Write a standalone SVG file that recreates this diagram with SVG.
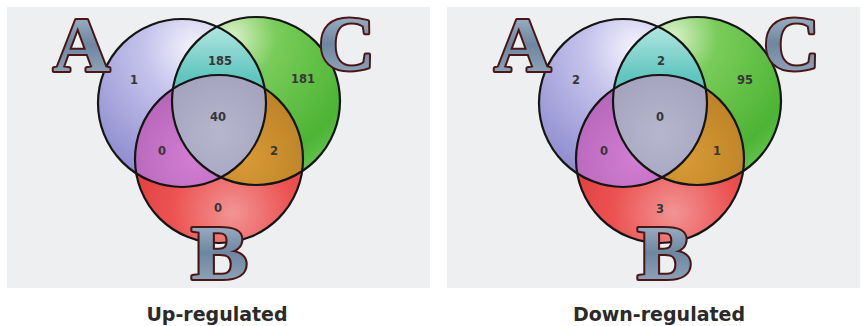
<svg xmlns="http://www.w3.org/2000/svg" width="861" height="326" viewBox="0 0 861 326">
  <style>
    .bg { fill: #eeeff1; }
    .outline { fill: none; stroke: #151515; stroke-width: 2.2; }
    .num { font-family: "DejaVu Sans", "Liberation Sans", sans-serif; font-weight: bold; font-size: 11.5px; fill: #363636; text-anchor: middle; }
    .big { font-family: "Liberation Serif", "DejaVu Serif", serif; font-weight: bold; font-size: 79px; fill: url(#letterGrad); stroke: #4a1616; stroke-width: 4; paint-order: stroke; stroke-linejoin: round; }
    .cap { font-family: "DejaVu Sans", "Liberation Sans", sans-serif; font-weight: bold; font-size: 19px; fill: #2a2a2a; text-anchor: middle; }
  </style>
  <defs>
    <clipPath id="clipA"><circle cx="182" cy="103" r="84"/></clipPath>
    <clipPath id="clipC"><circle cx="256" cy="101" r="84"/></clipPath>
    <radialGradient id="gA" cx="0.58" cy="0.18" r="0.85">
      <stop offset="0" stop-color="#f6f5fd"/>
      <stop offset="0.35" stop-color="#c6c4ec"/>
      <stop offset="1" stop-color="#8a88cc"/>
    </radialGradient>
    <radialGradient id="gC" cx="0.35" cy="0.12" r="0.9">
      <stop offset="0" stop-color="#dcf2cc"/>
      <stop offset="0.3" stop-color="#7acc5a"/>
      <stop offset="0.85" stop-color="#4cb434"/>
      <stop offset="1" stop-color="#62c24c"/>
    </radialGradient>
    <radialGradient id="gB" cx="0.58" cy="0.82" r="0.8">
      <stop offset="0" stop-color="#f29494"/>
      <stop offset="0.45" stop-color="#ec5252"/>
      <stop offset="1" stop-color="#d83434"/>
    </radialGradient>
    <linearGradient id="gAC" x1="0" y1="0" x2="0" y2="1">
      <stop offset="0" stop-color="#c2ece6"/>
      <stop offset="0.35" stop-color="#62c6c0"/>
      <stop offset="1" stop-color="#3aa6a8"/>
    </linearGradient>
    <radialGradient id="gAB" cx="0.35" cy="0.5" r="0.6">
      <stop offset="0" stop-color="#d27ed2"/>
      <stop offset="1" stop-color="#aa5cae"/>
    </radialGradient>
    <radialGradient id="gBC" cx="0.65" cy="0.5" r="0.6">
      <stop offset="0" stop-color="#d89a36"/>
      <stop offset="1" stop-color="#b07820"/>
    </radialGradient>
    <radialGradient id="gABC" cx="0.5" cy="0.35" r="0.6">
      <stop offset="0" stop-color="#b6b6ce"/>
      <stop offset="1" stop-color="#9a98b6"/>
    </radialGradient>
    <linearGradient id="letterGrad" x1="0" y1="0" x2="0" y2="1">
      <stop offset="0" stop-color="#b4c6d6"/>
      <stop offset="0.5" stop-color="#6e86a0"/>
      <stop offset="1" stop-color="#9cb2c6"/>
    </linearGradient>
    <g id="venn">
      <circle cx="182" cy="103" r="84" fill="url(#gA)"/>
      <circle cx="256" cy="101" r="84" fill="url(#gC)"/>
      <circle cx="219" cy="159" r="84" fill="url(#gB)"/>
      <circle cx="256" cy="101" r="84" fill="url(#gAC)" clip-path="url(#clipA)"/>
      <circle cx="219" cy="159" r="84" fill="url(#gAB)" clip-path="url(#clipA)"/>
      <circle cx="219" cy="159" r="84" fill="url(#gBC)" clip-path="url(#clipC)"/>
      <g clip-path="url(#clipA)">
        <circle cx="219" cy="159" r="84" fill="url(#gABC)" clip-path="url(#clipC)"/>
      </g>
      <circle class="outline" cx="182" cy="103" r="84"/>
      <circle class="outline" cx="256" cy="101" r="84"/>
      <circle class="outline" cx="219" cy="159" r="84"/>
    </g>
  </defs>

  <rect width="861" height="326" fill="#ffffff"/>
  <rect class="bg" x="7" y="7" width="423" height="281"/>
  <rect class="bg" x="447" y="7" width="413" height="281"/>

  <g id="panel-up">
    <g id="up-circles"><use href="#venn"/></g>
    <g id="up-labels">
      <text class="big" x="53" y="71">A</text>
      <text class="big" x="318" y="70">C</text>
      <text class="big" x="191" y="279" textLength="57" lengthAdjust="spacingAndGlyphs">B</text>
    </g>
    <g id="up-counts">
      <text class="num" x="134" y="84">1</text>
      <text class="num" x="220" y="65">185</text>
      <text class="num" x="303" y="83">181</text>
      <text class="num" x="218" y="121">40</text>
      <text class="num" x="162" y="155">0</text>
      <text class="num" x="274" y="155">2</text>
      <text class="num" x="218" y="212">0</text>
    </g>
    <text id="up-caption" class="cap" x="217" y="321">Up-regulated</text>
  </g>

  <g id="panel-down">
    <g id="down-circles" transform="translate(441,0)"><use href="#venn"/></g>
    <g id="down-labels">
      <text class="big" x="494" y="71">A</text>
      <text class="big" x="763" y="70">C</text>
      <text class="big" x="637" y="279" textLength="55" lengthAdjust="spacingAndGlyphs">B</text>
    </g>
    <g id="down-counts">
      <text class="num" x="576" y="84">2</text>
      <text class="num" x="661" y="65">2</text>
      <text class="num" x="745" y="84">95</text>
      <text class="num" x="660" y="121">0</text>
      <text class="num" x="604" y="155">0</text>
      <text class="num" x="717" y="155">1</text>
      <text class="num" x="660" y="213">3</text>
    </g>
    <text id="down-caption" class="cap" x="659" y="321">Down-regulated</text>
  </g>
</svg>
